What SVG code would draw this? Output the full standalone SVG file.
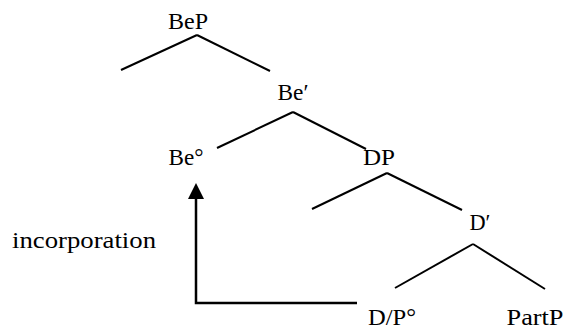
<svg xmlns="http://www.w3.org/2000/svg" width="565" height="331" viewBox="0 0 565 331">
<style>
.lbl{fill:#000;text-anchor:middle}
.edge{stroke:#000;stroke-width:2;fill:none;stroke-linecap:butt}
.move{stroke:#000;stroke-width:2.5;fill:none}
</style>
<rect width="565" height="331" fill="#fff"/>
<g id="connectors">
<line class="edge" x1="197" y1="35" x2="121" y2="70"/>
<line class="edge" x1="197" y1="35" x2="270" y2="71"/>
<line class="edge" x1="293" y1="112" x2="217" y2="148"/>
<line class="edge" x1="293" y1="112" x2="366" y2="149"/>
<line class="edge" x1="387" y1="173" x2="312" y2="209"/>
<line class="edge" x1="387" y1="173" x2="462" y2="210"/>
<line class="edge" x1="473" y1="244" x2="395" y2="288"/>
<line class="edge" x1="473" y1="244" x2="545" y2="289"/>
<path class="move" d="M357,303 H196 V198"/>
<path d="M196,183 L188,199 L204,199 Z" fill="#000"/>
</g>
<g font-family="Liberation Serif, Times New Roman, serif" font-size="24">
<g id="BeP"><text class="lbl" x="188" y="29" textLength="40" lengthAdjust="spacingAndGlyphs">BeP</text></g>
<g id="Bebar"><text class="lbl" x="293" y="100" textLength="31" lengthAdjust="spacingAndGlyphs">Be′</text></g>
<g id="Be0"><text class="lbl" x="186" y="165" textLength="35" lengthAdjust="spacingAndGlyphs">Be°</text></g>
<g id="DP"><text class="lbl" x="379" y="165" textLength="32" lengthAdjust="spacingAndGlyphs">DP</text></g>
<g id="Dbar"><text class="lbl" x="480" y="230" textLength="21" lengthAdjust="spacingAndGlyphs">D′</text></g>
<g id="DP0"><text class="lbl" x="392" y="325" textLength="48" lengthAdjust="spacingAndGlyphs">D/P°</text></g>
<g id="PartP"><text class="lbl" x="535" y="325" textLength="57" lengthAdjust="spacingAndGlyphs">PartP</text></g>
<g id="incorporation"><text class="lbl" x="84" y="248" textLength="144" lengthAdjust="spacingAndGlyphs">incorporation</text></g>
</g>
</svg>
